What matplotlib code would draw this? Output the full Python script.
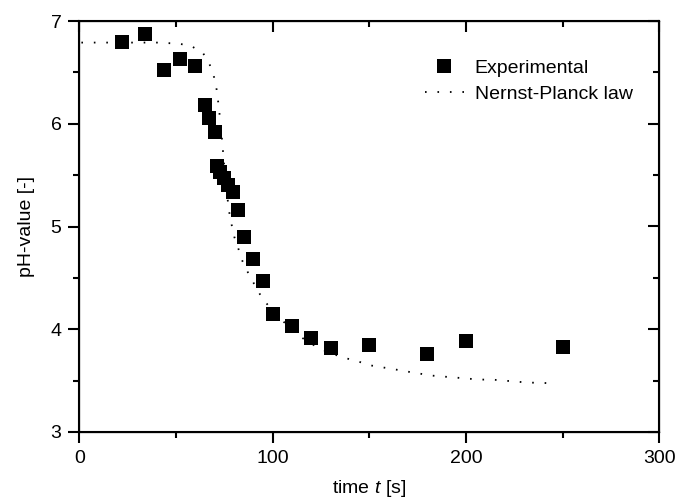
import matplotlib
matplotlib.use("Agg")
import matplotlib.pyplot as plt
import numpy as np

plt.rcParams['font.family'] = ['Liberation Sans', 'DejaVu Sans']
plt.rcParams['mathtext.fontset'] = 'custom'
plt.rcParams['mathtext.rm'] = 'Liberation Sans'
plt.rcParams['mathtext.it'] = 'Liberation Sans:italic'

# measured pH values
exp_time = [22, 34, 44, 52, 60, 65, 67, 70, 71, 72.7, 74.8, 77, 79.6,
            81.8, 84.9, 89.8, 94.9, 100, 110, 120, 130, 150, 180, 200, 250]
exp_ph = [6.80, 6.87, 6.52, 6.63, 6.56, 6.18, 6.06, 5.92, 5.59, 5.53, 5.47, 5.40, 5.34,
          5.16, 4.90, 4.68, 4.47, 4.15, 4.03, 3.91, 3.82, 3.85, 3.76, 3.89, 3.83]

# Nernst-Planck model curve
model_time = [1, 13, 25, 40, 51, 57.5, 63.9, 67.5, 69.7, 71, 71.8, 72.5, 74, 74.6,
              76.7, 77.5, 78.7, 80.1, 82.3, 84.4, 87.5, 91, 94.6, 100, 105.8, 112,
              118, 124.6, 131, 137.4, 143.7, 150, 156.5, 163, 169, 175.5, 181.7,
              188, 194.4, 200.6, 207, 213.4, 219.8, 226.2, 232.4, 238.6, 246]
model_ph = [6.79, 6.79, 6.79, 6.79, 6.78, 6.76, 6.69, 6.57, 6.45, 6.33, 6.21, 6.09, 5.80, 5.65,
            5.26, 5.14, 5.02, 4.90, 4.78, 4.66, 4.54, 4.42, 4.30, 4.18, 4.07, 3.96,
            3.88, 3.81, 3.76, 3.72, 3.69, 3.65, 3.63, 3.61, 3.59, 3.57, 3.55,
            3.54, 3.53, 3.52, 3.51, 3.51, 3.50, 3.49, 3.48, 3.48, 3.47]

fig = plt.figure(figsize=(6.79, 5.0), dpi=100)
ax = fig.add_axes([0.117, 0.136, 0.854, 0.822])

ax.plot(model_time, model_ph, color='black', lw=1.3, linestyle=(0, (0.9, 6.0)),
        label='Nernst-Planck law', zorder=2)
ax.plot(exp_time, exp_ph, 's', color='black', ms=9.5, mec='black', mew=0,
        label='Experimental', zorder=3)

ax.set_xlim(0, 300)
ax.set_ylim(3, 7)
ax.set_xticks([0, 100, 200, 300])
ax.set_xticks([50, 150, 250], minor=True)
ax.set_yticks([3, 4, 5, 6, 7])
ax.set_yticks([3.5, 4.5, 5.5, 6.5], minor=True)

for s in ax.spines.values():
    s.set_linewidth(1.5)

ax.tick_params(which='both', direction='out', width=1.5, labelsize=14,
               top=False, right=False)
ax.tick_params(which='major', length=8, pad=5)
ax.tick_params(which='minor', length=4)

# mirrored inward ticks on top and right
ax2 = ax.twiny()
ax2.set_xlim(ax.get_xlim())
ax2.set_xticks([0, 100, 200, 300])
ax2.set_xticks([50, 150, 250], minor=True)
ax2.tick_params(which='both', direction='in', width=1.5, labeltop=False)
ax2.tick_params(which='major', length=8)
ax2.tick_params(which='minor', length=4)
ax3 = ax.twinx()
ax3.set_ylim(ax.get_ylim())
ax3.set_yticks([3, 4, 5, 6, 7])
ax3.set_yticks([3.5, 4.5, 5.5, 6.5], minor=True)
ax3.tick_params(which='both', direction='in', width=1.5, labelright=False)
ax3.tick_params(which='major', length=8)
ax3.tick_params(which='minor', length=4)

ax.set_xlabel('time $t$ [s]', fontsize=14, labelpad=8)
ax.set_ylabel('pH-value [-]', fontsize=14, labelpad=11)

h, l = ax.get_legend_handles_labels()
ax.legend(h[::-1], l[::-1], loc='upper right', bbox_to_anchor=(0.984, 0.95),
          frameon=False, fontsize=14, handlelength=2.0, handletextpad=0.55,
          labelspacing=0.45)

fig.savefig('out.png', dpi=100)
